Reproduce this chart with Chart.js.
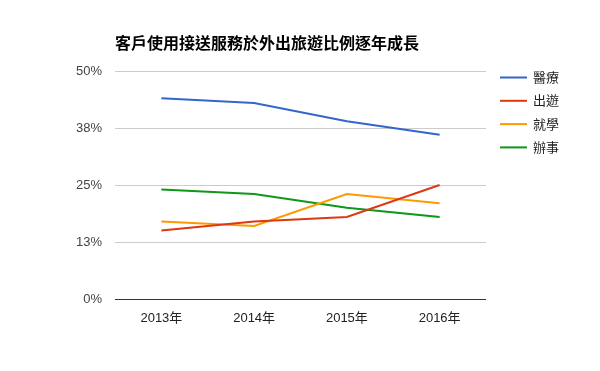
<!DOCTYPE html>
<html>
<head>
<meta charset="utf-8">
<script src="https://cdn.jsdelivr.net/npm/chart.js@4"></script>
<style>
  html, body { margin: 0; padding: 0; background: #fff; }
  #wrap { width: 600px; height: 371px; }
</style>
</head>
<body>
<div id="wrap"><canvas id="chart" width="600" height="371"></canvas></div>
<script>
// 資料
const years = ['2013年', '2014年', '2015年', '2016年'];
const yTicks = [0, 12.5, 25, 37.5, 50];
const medical = [44, 43, 39, 36];
const travel = [15, 17, 18, 25];
const school = [17, 16, 23, 21];
const errands = [24, 23, 20, 18];

const seriesNames = ['醫療', '出遊', '就學', '辦事'];
const seriesColors = ['#3366cc', '#dc3912', '#ff9900', '#109618'];
const seriesData = [medical, travel, school, errands];

const titleText = '客戶使用接送服務於外出旅遊比例逐年成長';
const FONT = "Arial, 'Liberation Sans', 'Noto Sans CJK TC', sans-serif";

// 標題和圖例自己畫
const titleLegend = {
    id: 'titleLegend',
    afterDraw(chart) {
        const ctx = chart.ctx;
        ctx.save();
        ctx.fillStyle = '#000';
        ctx.font = 'bold 16px ' + FONT;
        ctx.textBaseline = 'middle';
        ctx.textAlign = 'left';
        ctx.fillText(titleText, 115, 45);

        ctx.font = '13px ' + FONT;
        seriesNames.forEach((name, i) => {
            const y = 77.5 + i * 23.3;
            ctx.strokeStyle = seriesColors[i];
            ctx.lineWidth = 2;
            ctx.beginPath();
            ctx.moveTo(500, y);
            ctx.lineTo(527, y);
            ctx.stroke();
            ctx.fillStyle = '#222';
            ctx.fillText(name, 533, y + 1);
        });
        ctx.restore();
    }
};

const ctx = document.getElementById('chart').getContext('2d');
new Chart(ctx, {
    type: 'line',
    data: {
        labels: years,
        datasets: seriesNames.map((name, i) => ({
            label: name,
            data: seriesData[i],
            borderColor: seriesColors[i],
            backgroundColor: seriesColors[i],
            borderWidth: 2,
            pointRadius: 0,
            tension: 0,
            fill: false
        }))
    },
    options: {
        responsive: false,
        animation: false,
        layout: { padding: { top: 71, right: 114, bottom: 0, left: 0 } },
        plugins: {
            legend: { display: false },
            title: { display: false },
            tooltip: { enabled: false }
        },
        scales: {
            x: {
                offset: true,
                grid: { display: false },
                border: { display: false },
                ticks: {
                    color: '#222',
                    font: { family: FONT, size: 13 },
                    padding: 4,
                    maxRotation: 0
                },
                afterFit(scale) { scale.height = 72; }
            },
            y: {
                min: 0,
                max: 50,
                afterBuildTicks(scale) {
                    scale.ticks = yTicks.map(v => ({ value: v }));
                },
                grid: {
                    drawTicks: false,
                    color: c => (c.tick && c.tick.value === 0) ? '#333' : '#ccc',
                    lineWidth: 1
                },
                border: { display: false },
                ticks: {
                    color: '#444',
                    font: { family: FONT, size: 13 },
                    padding: 13,
                    callback: v => Math.round(v) + '%'
                },
                afterFit(scale) { scale.width = 115; }
            }
        }
    },
    plugins: [titleLegend]
});
</script>
</body>
</html>
